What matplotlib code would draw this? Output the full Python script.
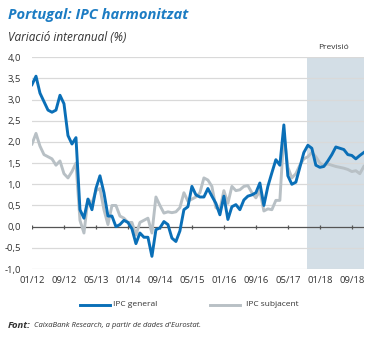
import matplotlib
matplotlib.use("Agg")
import matplotlib.pyplot as plt
import numpy as np

plt.rcParams['font.family'] = ['Open Sans', 'DejaVu Sans']

# monthly series, 01/12 .. 12/18
months = np.arange(84)
ipc_general = [
    3.35, 3.55, 3.15, 2.95, 2.75, 2.7, 2.75, 3.1, 2.9, 2.15, 1.95, 2.1,
    0.4, 0.2, 0.65, 0.4, 0.9, 1.2, 0.8, 0.25, 0.25, 0.0, 0.05, 0.15,
    0.1, -0.05, -0.4, -0.15, -0.25, -0.25, -0.7, -0.07, -0.03, 0.12, 0.05, -0.27,
    -0.35, -0.1, 0.4, 0.47, 0.95, 0.75, 0.7, 0.7, 0.9, 0.72, 0.55, 0.28,
    0.72, 0.17, 0.47, 0.52, 0.4, 0.63, 0.72, 0.75, 0.8, 1.03, 0.5, 0.95,
    1.27, 1.58, 1.45, 2.4, 1.2, 1.0, 1.05, 1.4, 1.75, 1.92, 1.85, 1.45,
    1.4, 1.42, 1.55, 1.7, 1.88, 1.85, 1.82, 1.7, 1.68, 1.6, 1.68, 1.75,
]
ipc_subjacent = [
    1.95, 2.2, 1.9, 1.7, 1.65, 1.6, 1.45, 1.55, 1.25, 1.15, 1.3, 1.5,
    0.15, -0.15, 0.65, 0.55, 0.85, 0.9, 0.4, 0.05, 0.5, 0.5, 0.25, 0.2,
    0.1, 0.1, -0.2, 0.1, 0.15, 0.2, -0.15, 0.7, 0.5, 0.32, 0.35, 0.33,
    0.35, 0.45, 0.8, 0.6, 0.65, 0.7, 0.8, 1.15, 1.1, 0.95, 0.45, 0.4,
    0.85, 0.55, 0.95, 0.85, 0.87, 0.95, 0.97, 0.8, 0.68, 0.85, 0.37, 0.42,
    0.4, 0.62, 0.62, 2.2, 1.4, 1.15, 1.25, 1.45, 1.6, 1.65, 1.75, 1.65,
    1.5, 1.45, 1.48, 1.45, 1.42, 1.4, 1.38, 1.35, 1.3, 1.32, 1.25, 1.42,
]
tick_months = [0, 8, 16, 24, 32, 40, 48, 56, 64, 72, 80]
tick_labels = ['01/12', '09/12', '05/13', '01/14', '09/14', '05/15',
               '01/16', '09/16', '05/17', '01/18', '09/18']
forecast_start = 68.75

blue = '#0a6fb7'
grey = '#b8c0c5'
text_col = '#333333'

fig = plt.figure(figsize=(3.72, 3.38), dpi=100)
ax = fig.add_axes([0.086, 0.204, 0.892, 0.627])

ax.axvspan(forecast_start, 83, color='#d3dee6', lw=0, zorder=0)
for y in np.arange(-1.0, 4.01, 0.5):
    if abs(y) > 1e-9:
        ax.axhline(y, color='#d9d9d9', lw=0.9, zorder=1)
ax.axhline(0, color='#555555', lw=0.9, zorder=2)
ax.vlines(tick_months, -0.05, 0.05, color='#555555', lw=0.9, zorder=2)

ax.plot(months, ipc_subjacent, color=grey, lw=2.1, zorder=3,
        solid_joinstyle='round')
ax.plot(months, ipc_general, color=blue, lw=2.1, zorder=4,
        solid_joinstyle='round')

ax.set_xlim(0, 83)
ax.set_ylim(-1.0, 4.0)
ax.set_yticks(np.arange(-1.0, 4.01, 0.5))
ax.set_yticklabels([f'{v:.1f}'.replace('.', ',') for v in np.arange(-1.0, 4.01, 0.5)])
ax.set_xticks(tick_months)
ax.set_xticklabels(tick_labels)
ax.tick_params(length=0, labelsize=6.8, colors=text_col, pad=5)
ax.tick_params(axis='y', pad=8)
for s in ax.spines.values():
    s.set_visible(False)

ax.text(0.91, 1.03, 'Previsió', transform=ax.transAxes, ha='center',
        va='bottom', fontsize=6.0, color=text_col)

fig.text(0.022, 0.955, 'Portugal: IPC harmonitzat', fontsize=10.6,
         fontweight='bold', style='italic', color='#1c7cc3', va='center')
fig.text(0.022, 0.89, 'Variació interanual (%)', fontsize=8.5,
         style='italic', color=text_col, va='center')

# legend drawn by hand below the axis labels
fig.lines.append(plt.Line2D([0.215, 0.295], [0.098, 0.098], color=blue,
                            lw=2.1, transform=fig.transFigure))
fig.text(0.305, 0.098, 'IPC general', fontsize=6.0, color=text_col, va='center')
fig.lines.append(plt.Line2D([0.565, 0.645], [0.098, 0.098], color=grey,
                            lw=2.1, transform=fig.transFigure))
fig.text(0.66, 0.098, 'IPC subjacent', fontsize=6.0, color=text_col, va='center')

fig.text(0.022, 0.038, 'Font:', fontsize=6.8, fontweight='bold',
         style='italic', color=text_col, va='center')
fig.text(0.092, 0.038, "CaixaBank Research, a partir de dades d'Eurostat.",
         fontsize=5.5, style='italic', color=text_col, va='center')

fig.savefig('out.png', dpi=100)
